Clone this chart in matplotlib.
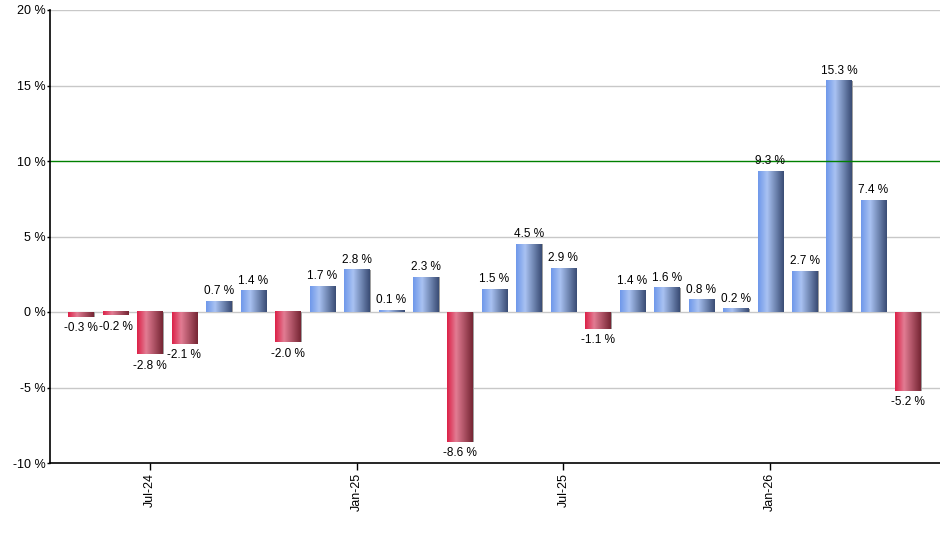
import matplotlib
matplotlib.use("Agg")
import matplotlib.pyplot as plt
import numpy as np
from matplotlib.colors import LinearSegmentedColormap

plt.rcParams['font.family'] = ['Liberation Sans', 'DejaVu Sans']

months = ["May-24", "Jun-24", "Jul-24", "Aug-24", "Sep-24", "Oct-24", "Nov-24", "Dec-24",
          "Jan-25", "Feb-25", "Mar-25", "Apr-25", "May-25", "Jun-25", "Jul-25", "Aug-25",
          "Sep-25", "Oct-25", "Nov-25", "Dec-25", "Jan-26", "Feb-26", "Mar-26", "Apr-26", "May-26"]
values = [-0.3, -0.2, -2.8, -2.1, 0.7, 1.4, -2.0, 1.7, 2.8, 0.1, 2.3, -8.6, 1.5, 4.5, 2.9,
          -1.1, 1.4, 1.6, 0.8, 0.2, 9.3, 2.7, 15.3, 7.4, -5.2]
tick_labels = ["Jul-24", "Jan-25", "Jul-25", "Jan-26"]
yticks = [-10, -5, 0, 5, 10, 15, 20]
target = 10

blue_cmap = LinearSegmentedColormap.from_list("b", [(0, "#6f98ea"), (0.35, "#a9c2f2"), (1.0, "#3a4d75")])
red_cmap = LinearSegmentedColormap.from_list("r", [(0, "#dc2148"), (0.35, "#e27c93"), (1.0, "#762634")])

fig = plt.figure(figsize=(9.4, 5.5), dpi=100)
ax = fig.add_axes([49.5/940, 87/550, (940-49.5)/940, (463-10)/550])

x = np.arange(len(values))
width = 0.73
grad = np.linspace(0, 1, 64).reshape(1, -1)

ax.set_xlim(-0.914, 24.93)
ax.set_ylim(-10, 20)

for yt in yticks:
    if yt not in (-10, target):
        ax.axhline(yt, color="#c8c8c8", lw=1, zorder=1)

for xi, v in zip(x, values):
    cmap = blue_cmap if v >= 0 else red_cmap
    x0, x1 = xi - width/2, xi + width/2
    ax.add_patch(plt.Rectangle((x0 + 0.04, min(0, v)), width, abs(v), color="#a0a0a0", zorder=2, lw=0))
    ax.imshow(grad, cmap=cmap, extent=[x0, x1, min(0, v), max(0, v)], aspect="auto", zorder=3,
              interpolation="bilinear")
    if v >= 0:
        ax.annotate(f"{v:.1f} %", (xi, v), xytext=(0, 3), textcoords="offset points",
                    ha="center", va="bottom", fontsize=8.5, zorder=5)
    else:
        ax.annotate(f"{v:.1f} %", (xi, v), xytext=(0, -4), textcoords="offset points",
                    ha="center", va="top", fontsize=8.5, zorder=5)

ax.axhline(target, color="#008000", lw=1, zorder=4)

ax.set_xlim(-0.914, 24.93)
ax.set_ylim(-10, 20)

ax.set_yticks(yticks)
ax.set_yticklabels([f"{t} %" for t in yticks], fontsize=9)
tick_pos = [months.index(m) for m in tick_labels]
ax.set_xticks(tick_pos)
ax.set_xticklabels(tick_labels, rotation=90, fontsize=9)
ax.tick_params(axis="x", length=5, width=1, color="black", pad=2)
ax.tick_params(axis="y", length=2, width=1, pad=1)

for s in ["top", "right"]:
    ax.spines[s].set_visible(False)
for s in ["left", "bottom"]:
    ax.spines[s].set_linewidth(1.2)
    ax.spines[s].set_zorder(6)

fig.savefig("out.png", dpi=100)
